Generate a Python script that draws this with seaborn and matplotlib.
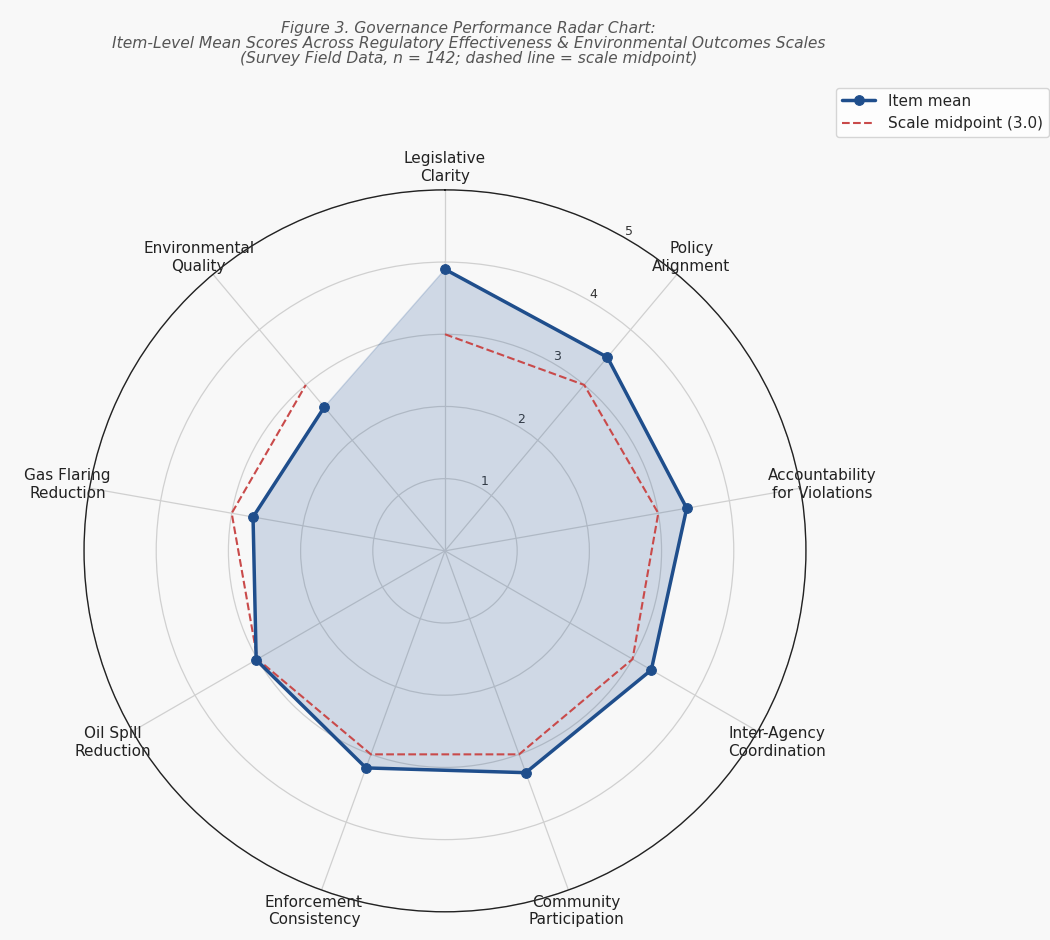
import matplotlib
matplotlib.use("Agg")
import matplotlib.pyplot as plt
import seaborn as sns
import numpy as np
import pandas as pd

items = ["Legislative\nClarity", "Policy\nAlignment", "Accountability\nfor Violations",
         "Inter-Agency\nCoordination", "Community\nParticipation", "Enforcement\nConsistency",
         "Oil Spill\nReduction", "Gas Flaring\nReduction", "Environmental\nQuality"]
item_means = [3.9, 3.5, 3.4, 3.3, 3.27, 3.2, 3.02, 2.7, 2.6]
midpoint = [3.0] * len(items)
r_ticks = [1, 2, 3, 4, 5]

sns.set_theme(style="whitegrid", rc={"axes.facecolor": "#f8f8f8", "figure.facecolor": "#f8f8f8"})
plt.rcParams['font.family'] = ['DejaVu Sans']

fig = plt.figure(figsize=(10.5, 9.4), dpi=100)
ax = fig.add_axes([0.08, 0.03, 0.6876, 0.768], polar=True)
ax.set_theta_offset(np.pi / 2)
ax.set_theta_direction(-1)

angles = np.linspace(0, 2 * np.pi, len(items), endpoint=False)
closed = lambda v: list(v) + [v[0]]
df = pd.DataFrame({"angle": closed(angles), "mean": closed(item_means), "mid": closed(midpoint)})

ax.fill(df["angle"], df["mean"], color="#2e5c99", alpha=0.2, zorder=2)
sns.lineplot(data=df, x="angle", y="mean", sort=False, ax=ax, color="#1f4e8c", lw=2.5,
             marker="o", markersize=7, markeredgecolor="#1f4e8c", label="Item mean", zorder=4)
sns.lineplot(data=df, x="angle", y="mid", sort=False, ax=ax, color="#c94a4a", lw=1.5,
             linestyle="--", label="Scale midpoint (3.0)", zorder=3)

ax.set_ylim(0, 5)
ax.set_yticks(r_ticks)
ax.set_yticklabels([str(t) for t in r_ticks], fontsize=9, color="#333333")
ax.set_rlabel_position(30)
ax.set_xticks(angles)
ax.set_xticklabels(items, fontsize=11, color="#222222")
ax.tick_params(axis="x", pad=3)
ax.set_xlabel("")
ax.set_ylabel("")
ax.grid(color="#d0d0d0", lw=0.9)
ax.spines["polar"].set_color("#222222")
ax.spines["polar"].set_linewidth(1.0)

ax.legend(loc="upper right", bbox_to_anchor=(1.006, 0.915), bbox_transform=fig.transFigure,
          fontsize=11, handlelength=2.2, frameon=True, facecolor="white", edgecolor="#cccccc")

fig.text(0.446, 0.978,
         "Figure 3. Governance Performance Radar Chart:\n"
         "Item-Level Mean Scores Across Regulatory Effectiveness & Environmental Outcomes Scales\n"
         "(Survey Field Data, n = 142; dashed line = scale midpoint)",
         ha="center", va="top", fontsize=11.2, style="italic", color="#555555", linespacing=1.0)

fig.savefig("out.png", dpi=100)
